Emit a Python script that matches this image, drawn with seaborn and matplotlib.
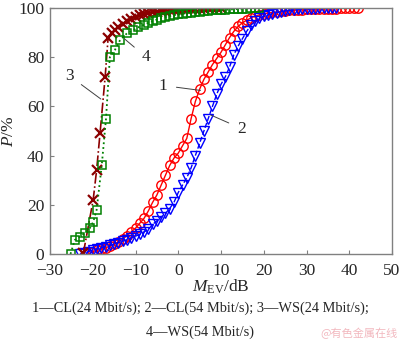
import matplotlib
matplotlib.use("Agg")
import matplotlib.pyplot as plt
import seaborn as sns
import pandas as pd

# Cumulative distribution of M_EV for four link configurations
cl24_x = [-21, -20, -19, -18, -17, -16, -15, -14, -13, -12, -11, -10, -9, -8, -7, -6,
          -5, -4, -3, -2, -1, 0, 1, 2, 3, 4, 5, 6, 7, 8, 9, 10, 11, 12, 13, 14, 15, 16,
          17, 18, 19, 20, 21, 22, 23, 24, 25, 26, 27, 28, 29, 30, 31, 32, 33, 34, 35,
          36, 37, 38, 39, 40, 41, 42]
cl24_p = [0, 1, 1.5, 2, 2.5, 3.2, 4, 5, 6, 7.5, 9, 10.5, 12.5, 14.5, 17.5, 21, 24, 28,
          32, 36, 39, 41, 44, 47, 55, 62, 67, 71, 74, 77, 79.5, 82, 85, 88, 90.5, 92.5,
          94, 95, 96, 96.7, 97.2, 97.6, 98, 98.2, 98.4, 98.6, 98.8, 99, 99.1, 99.2, 99.3,
          99.4, 99.5, 99.6, 99.6, 99.7, 99.7, 99.8, 99.8, 99.9, 99.9, 100, 100, 100]

cl54_x = [-23, -22, -21, -20, -19, -18, -17, -16, -15, -14, -13, -12, -11, -10, -9, -8,
          -7, -6, -5, -4, -3, -2, -1, 0, 1, 2, 3, 4, 5, 6, 7, 8, 9, 10, 11, 12, 13, 14,
          15, 16, 17, 18, 19, 20, 21, 22, 23, 24, 25, 26, 27, 28, 29, 30, 31, 32, 33,
          34, 35, 36, 37]
cl54_p = [0, 0.5, 1, 1.5, 2, 2.5, 3, 3.5, 4, 4.6, 5.2, 5.8, 6.5, 7.2, 8, 9, 10, 12,
          13.5, 15, 16.5, 18.5, 21, 25, 28, 31, 35, 40, 45, 50, 55, 60, 65, 69, 72, 76,
          81, 84.5, 87.5, 90.5, 93, 94.8, 95.8, 96.6, 97.2, 97.7, 98.1, 98.5, 98.8, 99,
          99.2, 99.4, 99.5, 99.6, 99.7, 99.8, 99.9, 99.9, 100, 100, 100]

ws24_x = [-22.2, -19.9, -19.1, -18.3, -17.1, -16.4, -15.6, -14.8, -14, -13, -12, -11,
          -10, -9, -8, -7, -6, -5, -4, -3, -2, -1, 0, 1, 2, 3, 4, 5, 6, 7, 8, 9, 10]
ws24_p = [0.3, 22, 34, 49, 72, 88, 89.8, 91, 92.3, 93.7, 94.8, 95.7, 96.4, 97, 97.5,
          97.9, 98.2, 98.5, 98.7, 98.9, 99.1, 99.2, 99.3, 99.4, 99.5, 99.6, 99.7, 99.8,
          99.8, 99.9, 99.9, 100, 100]

ws54_x = [-25.2, -24.2, -23, -21.8, -20.7, -19.9, -19.1, -17.9, -16.9, -16, -14.8,
          -13.6, -12, -10.5, -9.3, -8, -7, -6, -5, -4, -3, -2, -1, 0, 1, 2, 3, 4, 5, 6,
          7, 8, 9, 10, 11, 12, 13, 14, 15, 16, 17, 18, 19]
ws54_p = [0, 5.7, 7, 8.5, 10.5, 13, 17.9, 36, 55, 80, 83, 87, 89.7, 91, 92.2, 93.2, 94,
          94.7, 95.3, 95.8, 96.3, 96.7, 97.1, 97.4, 97.7, 97.9, 98.1, 98.3, 98.5, 98.7,
          98.9, 99, 99.1, 99.2, 99.3, 99.4, 99.5, 99.6, 99.7, 99.8, 99.9, 99.9, 100]

x_ticks = [-30, -20, -10, 0, 10, 20, 30, 40, 50]
y_ticks = [0, 20, 40, 60, 80, 100]
caption_1 = "1\u2014CL(24 Mbit/s); 2\u2014CL(54 Mbit/s); 3\u2014WS(24 Mbit/s);"
caption_2 = "4\u2014WS(54 Mbit/s)"

sns.set_theme(style="white")
plt.rcParams["font.family"] = ["Liberation Serif", "DejaVu Serif"]
plt.rcParams["mathtext.fontset"] = "custom"
plt.rcParams["mathtext.rm"] = "Liberation Serif"
plt.rcParams["mathtext.it"] = "Liberation Serif:italic"

fig = plt.figure(figsize=(4.0, 3.44), dpi=100)
ax = fig.add_axes([0.125, 0.2616, 0.855, 0.7151])

series = [
    (cl24_x, cl24_p, "#ff0000", dict(linestyle="-", marker="o", markersize=6.8,
                                     markerfacecolor="none", markeredgewidth=1.0,
                                     linewidth=1.0)),
    (cl54_x, cl54_p, "#0000ff", dict(linestyle="--", marker="v", markersize=6.8,
                                     markerfacecolor="none", markeredgewidth=1.0,
                                     linewidth=1.0)),
    (ws24_x, ws24_p, "#8b0000", dict(linestyle="-.", marker="x", markersize=6.8,
                                     markeredgewidth=1.6, linewidth=1.2)),
    (ws54_x, ws54_p, "#008000", dict(linestyle=":", marker="s", markersize=6.0,
                                     markerfacecolor="none", markeredgewidth=1.1,
                                     linewidth=1.3)),
]
for xs, ps, color, style in series:
    df = pd.DataFrame({"x": xs, "p": ps})
    n_before = len(ax.lines)
    sns.lineplot(data=df, x="x", y="p", ax=ax, sort=False, estimator=None, color=color)
    line = ax.lines[n_before]
    line.set(markeredgecolor=color, **style)

ax.set_xlim(-30, 50)
ax.set_ylim(0, 100)
ax.set_xticks(x_ticks)
ax.set_yticks(y_ticks)
ax.set_xticklabels(["\u221230", "\u221220", "\u221210", "0", "10", "20", "30", "40", "50"])
ax.tick_params(direction="in", length=3, width=0.8, color="#808080", labelsize=12.5,
               bottom=True, left=True)
ax.tick_params(axis="x", pad=6.5)
ax.tick_params(axis="y", pad=4)
for s in ax.spines.values():
    s.set_color("#808080")
    s.set_linewidth(1.0)

ax.set_xlabel(r"$M_{\mathrm{EV}}$/dB", fontsize=12.5, labelpad=-1)
ax.set_ylabel(r"$P$/%", fontsize=12.5, labelpad=1)

# Curve callouts with leader lines
lead = dict(color="#404040", linewidth=0.7)
ax.annotate("1", xy=(5.2, 66.5), xytext=(-3.5, 68.5), fontsize=12.5, va="center",
            ha="center", arrowprops=dict(arrowstyle="-", shrinkA=4, shrinkB=0, **lead))
ax.annotate("2", xy=(7.6, 56.5), xytext=(14.8, 51), fontsize=12.5, va="center",
            ha="center", arrowprops=dict(arrowstyle="-", shrinkA=4, shrinkB=0, **lead))
ax.annotate("3", xy=(-18.1, 63), xytext=(-25.5, 72.5), fontsize=12.5, va="center",
            ha="center", arrowprops=dict(arrowstyle="-", shrinkA=4, shrinkB=0, **lead))
ax.annotate("4", xy=(-12.6, 87.5), xytext=(-7.5, 80), fontsize=12.5, va="center",
            ha="center", arrowprops=dict(arrowstyle="-", shrinkA=4, shrinkB=0, **lead))

fig.text(0.5, 1 - 308 / 344, caption_1, ha="center", va="center", fontsize=10.4)
fig.text(0.5, 1 - 332 / 344, caption_2, ha="center", va="center", fontsize=10.4)
fig.text(0.995, 1 - 333 / 344, "@有色金属在线", ha="right", va="center", fontsize=8,
         color="#f2b8bf", family=["Noto Sans CJK SC", "DejaVu Sans"])

fig.savefig("out.png", dpi=100)
